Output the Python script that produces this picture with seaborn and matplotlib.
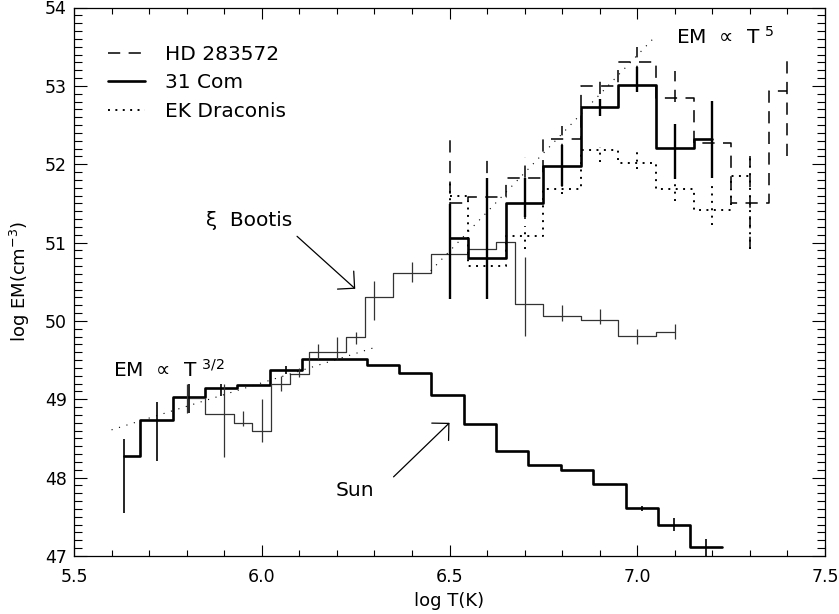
import numpy as np
import matplotlib
matplotlib.use("Agg")
import matplotlib.pyplot as plt
import pandas as pd
import seaborn as sns
from matplotlib.ticker import MultipleLocator, FormatStrFormatter

sns.set_style('ticks')
plt.rcParams['font.family'] = ['DejaVu Sans']
plt.rcParams['mathtext.fontset'] = 'dejavusans'
plt.rcParams['text.color'] = 'black'
plt.rcParams['axes.labelcolor'] = 'black'

# Sun (thick histogram, declining)
sun_t = [5.634, 5.720, 5.806, 5.892, 5.978, 6.065, 6.151, 6.237, 6.323, 6.409,
         6.495, 6.581, 6.667, 6.753, 6.839, 6.926, 7.012, 7.098, 7.184, 7.225]
sun_em = [48.28, 48.73, 49.03, 49.14, 49.18, 49.37, 49.51, 49.52, 49.44, 49.34,
          49.05, 48.68, 48.34, 48.16, 48.10, 47.92, 47.61, 47.40, 47.11, 47.11]
sun_err_t = [5.634, 5.720, 5.806, 5.892, 6.065, 7.012, 7.098, 7.184]
sun_err_hi = [48.49, 48.97, 49.20, 49.19, 49.42, 47.64, 47.48, 47.22]
sun_err_lo = [47.55, 48.21, 48.82, 49.04, 49.32, 47.57, 47.32, 47.00]

# xi Bootis (thin histogram)
xi_t = [5.80, 5.90, 5.95, 6.00, 6.05, 6.10, 6.15, 6.20, 6.25, 6.30,
        6.40, 6.50, 6.60, 6.65, 6.70, 6.80, 6.90, 7.00, 7.10]
xi_em = [49.02, 48.81, 48.70, 48.60, 49.20, 49.32, 49.60, 49.60, 49.80, 50.31,
         50.61, 50.86, 50.92, 51.01, 50.21, 50.06, 50.01, 49.81, 49.86]
xi_err_t = [5.80, 5.90, 5.95, 6.00, 6.05, 6.10, 6.15, 6.20, 6.25, 6.30,
            6.40, 6.70, 6.80, 6.90, 7.00, 7.10]
xi_err_hi = [49.19, 49.19, 48.85, 49.00, 49.30, 49.40, 49.70, 49.80, 49.86, 50.51,
             50.75, 50.81, 50.20, 50.15, 49.90, 49.96]
xi_err_lo = [48.83, 48.26, 48.66, 48.45, 49.11, 49.28, 49.51, 49.51, 49.70, 50.01,
             50.50, 49.81, 50.00, 49.96, 49.71, 49.77]

# 31 Com (thick)
com_t = [6.50, 6.60, 6.70, 6.80, 6.90, 7.00, 7.10, 7.20]
com_em = [51.06, 50.80, 51.50, 51.98, 52.73, 53.01, 52.21, 52.32]
com_hi = [51.49, 51.83, 51.83, 52.24, 52.83, 53.24, 52.51, 52.81]
com_lo = [50.28, 50.28, 51.32, 51.72, 52.62, 52.92, 51.81, 51.83]

# HD 283572 (dashed)
hd_t = [6.50, 6.60, 6.70, 6.80, 6.90, 7.00, 7.10, 7.20, 7.30, 7.40]
hd_em = [51.50, 51.58, 51.83, 52.32, 53.00, 53.31, 52.84, 52.27, 51.51, 52.94]
hd_hi = [52.36, 52.09, 52.09, 52.49, 53.09, 53.49, 53.19, 52.50, 52.11, 53.39]
hd_lo = [51.10, 51.10, 51.30, 52.10, 52.90, 53.10, 52.80, 52.05, 50.92, 52.11]

# EK Draconis (dotted)
ek_t = [6.50, 6.60, 6.70, 6.80, 6.90, 7.00, 7.10, 7.20, 7.30]
ek_em = [51.60, 50.70, 51.08, 51.68, 52.18, 52.01, 51.69, 51.42, 51.85]
ek_hi = [51.81, 50.85, 51.21, 51.81, 52.22, 52.22, 51.75, 51.72, 52.11]
ek_lo = [51.35, 50.55, 50.92, 51.62, 52.03, 51.94, 51.53, 51.23, 50.92]

# power-law guide lines (end points)
fit32_t = [5.60, 6.30]
fit32_em = [48.61, 49.66]
fit5_t = [6.45, 7.05]
fit5_em = [50.64, 53.64]

dash = (0, (8, 5.5))
dot = (0, (1, 2.8))
fine_dot = (0, (1, 6))

fig = plt.figure(figsize=(8.39, 6.14), dpi=100)
ax = fig.add_axes([74 / 839, 1 - 556 / 614, 751 / 839, 548.5 / 614])

# histograms
sns.lineplot(x=sun_t, y=sun_em, ax=ax, color='black', lw=1.9, drawstyle='steps-mid',
             estimator=None, sort=False)
sns.lineplot(x=xi_t, y=xi_em, ax=ax, color='#333333', lw=0.9, drawstyle='steps-mid',
             estimator=None, sort=False)
sns.lineplot(x=hd_t, y=hd_em, ax=ax, color='black', lw=1.1, drawstyle='steps-mid',
             estimator=None, sort=False, linestyle=dash, label='HD 283572')
sns.lineplot(x=com_t, y=com_em, ax=ax, color='black', lw=1.9, drawstyle='steps-mid',
             estimator=None, sort=False, label='31 Com')
sns.lineplot(x=ek_t, y=ek_em, ax=ax, color='black', lw=1.4, drawstyle='steps-mid',
             estimator=None, sort=False, linestyle=dot, label='EK Draconis')

# error bars
ax.vlines(sun_err_t, sun_err_lo, sun_err_hi, color='black', lw=1.2)
ax.vlines(xi_err_t, xi_err_lo, xi_err_hi, color='#333333', lw=0.9)
ax.vlines(com_t, com_lo, com_hi, color='black', lw=1.7)
ax.vlines(hd_t, hd_lo, hd_hi, color='black', lw=1.1, linestyles=[dash])
ax.vlines(ek_t, ek_lo, ek_hi, color='black', lw=1.4, linestyles=[dot])

# guide lines
ax.plot(fit32_t, fit32_em, color='black', lw=0.8, linestyle=fine_dot)
ax.plot(fit5_t, fit5_em, color='black', lw=0.8, linestyle=fine_dot)

# labels and arrows
txt = 14.5
arrow = dict(arrowstyle='->,head_length=0.6,head_width=0.6', color='black', lw=0.9,
             shrinkA=0, shrinkB=0, mutation_scale=txt)
ax.annotate('', xy=(6.249, 50.41), xytext=(6.094, 51.08), arrowprops=arrow)
ax.annotate('', xy=(6.500, 48.70), xytext=(6.351, 48.01), arrowprops=arrow)
ax.text(5.966, 51.28, '\u03be  Bootis', fontsize=txt, ha='center', va='center')
ax.text(6.249, 47.84, 'Sun', fontsize=txt, ha='center', va='center')
ax.text(5.604, 49.38, 'EM  \u221d  T $^{3/2}$', fontsize=txt, ha='left', va='center')
ax.text(7.104, 53.62, 'EM  \u221d  T $^{5}$', fontsize=txt, ha='left', va='center')

leg = ax.legend(loc='upper left', bbox_to_anchor=(0.035, 0.947), frameon=False,
                fontsize=txt, handlelength=1.8, handletextpad=1.0, labelspacing=0.48,
                borderaxespad=0)
for t in leg.get_texts():
    t.set_color('black')

ax.set_xlim(5.5, 7.5)
ax.set_ylim(47, 54)
ax.xaxis.set_major_locator(MultipleLocator(0.5))
ax.xaxis.set_minor_locator(MultipleLocator(0.1))
ax.yaxis.set_major_locator(MultipleLocator(1))
ax.yaxis.set_minor_locator(MultipleLocator(0.1))
ax.xaxis.set_major_formatter(FormatStrFormatter('%.1f'))
ax.tick_params(axis='both', which='both', direction='in', top=True, right=True,
               labelsize=12.5, colors='black', width=0.8)
ax.tick_params(axis='x', which='major', length=8, pad=9)
ax.tick_params(axis='x', which='minor', length=4)
ax.tick_params(axis='y', which='major', length=9.5, pad=5)
ax.tick_params(axis='y', which='minor', length=5.5)
for s in ax.spines.values():
    s.set_linewidth(0.9)
    s.set_color('black')

ax.set_xlabel('log T(K)', fontsize=13)
ax.set_ylabel(r'log EM(cm$^{-3}$)', fontsize=13)
ax.xaxis.set_label_coords(0.5, -0.066)
ax.yaxis.set_label_coords(-0.056, 0.5)

fig.savefig('out.png', dpi=100)
